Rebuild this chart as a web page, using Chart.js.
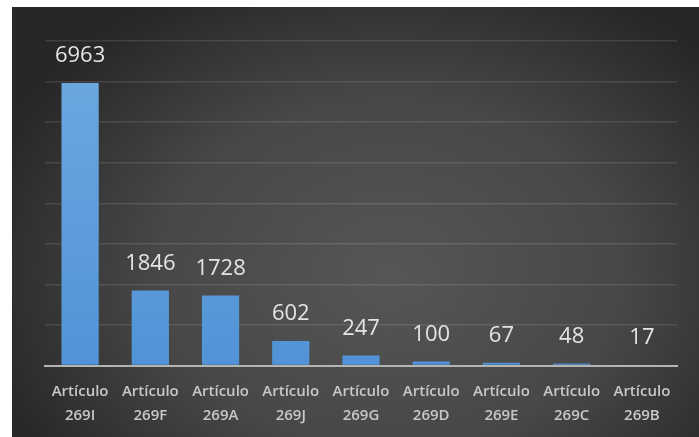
<!DOCTYPE html>
<html>
<head>
<meta charset="utf-8">
<script src="https://cdn.jsdelivr.net/npm/chart.js@4.4.0/dist/chart.umd.min.js"></script>
<style>
  html, body { margin: 0; padding: 0; background: #ffffff; }
  #wrap { position: absolute; left: 12px; top: 7px; width: 687px; height: 430px; }
</style>
</head>
<body>
<div id="wrap"><canvas id="myBarChart"></canvas></div>
<script>
// data
const categories = [['Artículo','269I'],['Artículo','269F'],['Artículo','269A'],['Artículo','269J'],
  ['Artículo','269G'],['Artículo','269D'],['Artículo','269E'],['Artículo','269C'],['Artículo','269B']];
const values = [6963, 1846, 1728, 602, 247, 100, 67, 48, 17];
const yMax = 8000;
const yStep = 1000;

// dark radial background behind the chart
const darkBg = {
  id: 'darkBg',
  beforeDraw(chart) {
    const ctx = chart.ctx;
    const w = chart.width, h = chart.height;
    ctx.save();
    ctx.translate(w * 0.55, h * 0.62);
    ctx.scale(1, 0.75);
    const g = ctx.createRadialGradient(0, 0, 0, 0, 0, w * 0.62);
    g.addColorStop(0, '#565656');
    g.addColorStop(0.55, '#474747');
    g.addColorStop(1, '#272727');
    ctx.fillStyle = g;
    ctx.fillRect(-w, -h * 2, w * 3, h * 4);
    ctx.restore();
  }
};

// value labels above each bar
const valueLabels = {
  id: 'valueLabels',
  afterDatasetsDraw(chart) {
    const ctx = chart.ctx;
    const meta = chart.getDatasetMeta(0);
    ctx.save();
    ctx.font = '22px "Open Sans"';
    ctx.fillStyle = '#e4e4e4';
    ctx.textAlign = 'center';
    ctx.textBaseline = 'middle';
    meta.data.forEach((bar, i) => {
      ctx.fillText(values[i], bar.x, bar.y - 27);
    });
    ctx.restore();
  }
};

var ctx = document.getElementById('myBarChart').getContext('2d');
var myBarChart = new Chart(ctx, {
  type: 'bar',
  data: {
    labels: categories,
    datasets: [{
      data: values,
      backgroundColor: function(context) {
        const area = context.chart.chartArea;
        if (!area) return '#5b9bd5';
        const g = context.chart.ctx.createLinearGradient(0, area.top, 0, area.bottom);
        g.addColorStop(0, '#6eaae2');
        g.addColorStop(1, '#5193d6');
        return g;
      },
      categoryPercentage: 1,
      barPercentage: 0.53
    }]
  },
  options: {
    responsive: true,
    maintainAspectRatio: false,
    animation: false,
    layout: { padding: { left: 33, right: 22, top: 34, bottom: -5 } },
    plugins: { legend: { display: false }, tooltip: { enabled: false } },
    scales: {
      x: {
        grid: { display: false, drawTicks: false, tickLength: 0 },
        border: { display: true, color: '#b4b4b4', width: 2 },
        ticks: {
          color: '#c8c8c8',
          font: { family: 'Open Sans', size: 15, weight: 600, lineHeight: 1.55 },
          padding: 15,
          maxRotation: 0,
          autoSkip: false
        }
      },
      y: {
        min: 0,
        max: yMax,
        ticks: { display: false, stepSize: yStep },
        border: { display: false },
        grid: { color: 'rgba(255,255,255,0.11)', lineWidth: 1.5, drawTicks: false }
      }
    }
  },
  plugins: [darkBg, valueLabels]
});
</script>
</body>
</html>
